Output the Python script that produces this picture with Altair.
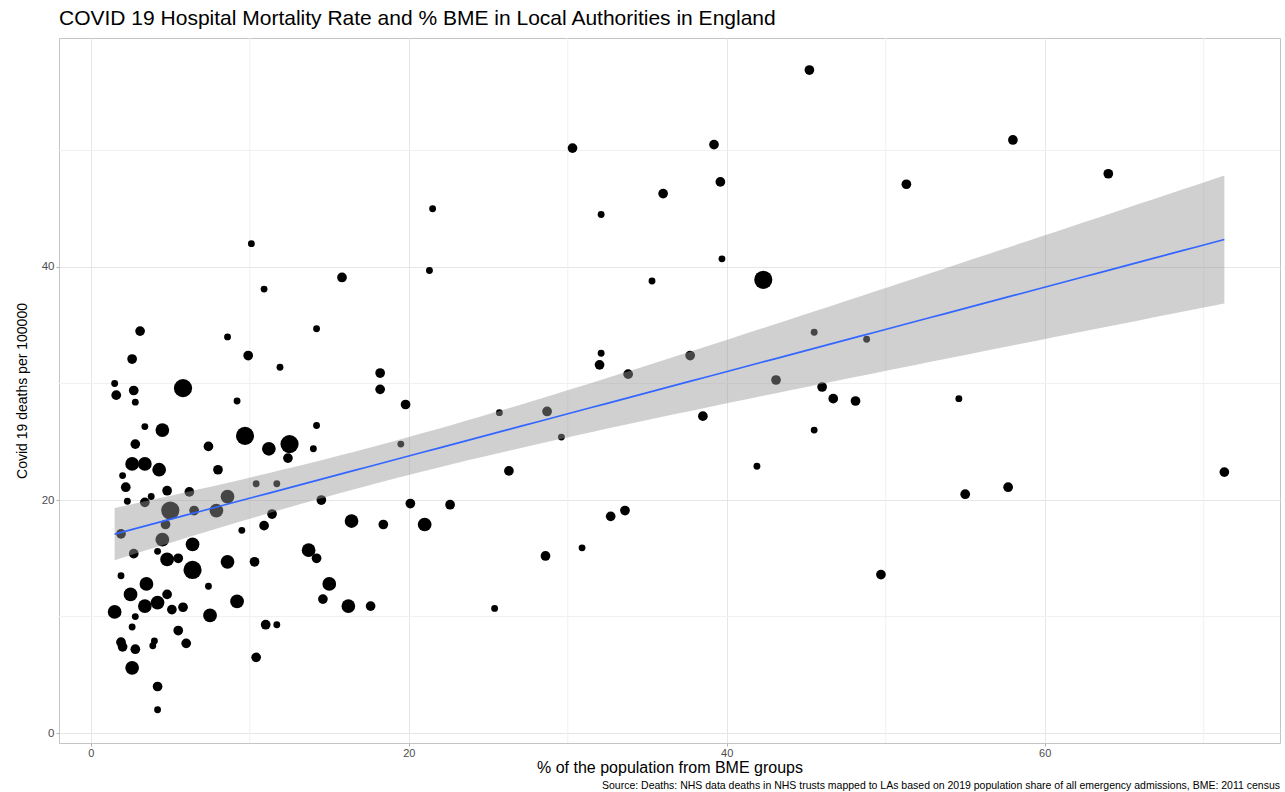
import numpy as np
import pandas as pd
import altair as alt

# % of population from BME groups (x)
bme = [45.2, 58.0, 30.3, 39.2, 64.0, 51.3, 39.6, 36.0, 21.5, 32.1,
       10.1, 10.9, 15.8, 21.3, 35.3, 39.7, 42.3, 3.1, 8.6, 14.2,
       9.9, 2.6, 11.9, 32.1, 32.0, 33.8, 37.7, 45.5, 48.8, 43.1,
       46.0, 46.7, 48.1, 54.6, 45.5, 41.9, 71.3, 55.0, 57.7, 49.7,
       38.5, 25.7, 28.7, 29.6, 26.3, 25.4, 28.6, 30.9, 32.7, 33.6,
       18.2, 18.2, 19.8, 19.5, 20.1, 22.6, 21.0, 18.4, 16.4, 14.2,
       14.0, 12.5, 11.2, 12.4, 10.4, 11.7, 14.5, 11.4, 10.9, 9.5,
       13.7, 14.2, 10.3, 15.0, 14.6, 16.2, 17.6, 11.0, 11.7, 10.4,
       1.5, 2.7, 1.6, 2.8, 5.8, 9.2, 3.4, 4.5, 9.7, 2.8,
       7.4, 2.6, 3.4, 4.3, 8.0, 2.0, 2.2, 4.8, 6.2, 2.3,
       3.4, 3.8, 8.6, 5.0, 6.5, 7.9, 4.7, 1.9, 4.5, 6.4,
       2.7, 4.2, 4.8, 5.5, 6.4, 8.6, 1.9, 3.5, 7.4, 2.5,
       4.8, 9.2, 4.2, 3.4, 5.1, 5.8, 1.5, 2.8, 7.5, 2.6,
       5.5, 1.9, 2.0, 2.8, 4.0, 3.9, 6.0, 2.6, 4.2, 4.2]

# Covid 19 deaths per 100000 (y)
deaths = [56.9, 50.9, 50.2, 50.5, 48.0, 47.1, 47.3, 46.3, 45.0, 44.5,
          42.0, 38.1, 39.1, 39.7, 38.8, 40.7, 38.9, 34.5, 34.0, 34.7,
          32.4, 32.1, 31.4, 32.6, 31.6, 30.8, 32.4, 34.4, 33.8, 30.3,
          29.7, 28.7, 28.5, 28.7, 26.0, 22.9, 22.4, 20.5, 21.1, 13.6,
          27.2, 27.5, 27.6, 25.4, 22.5, 10.7, 15.2, 15.9, 18.6, 19.1,
          30.9, 29.5, 28.2, 24.8, 19.7, 19.6, 17.9, 17.9, 18.2, 26.4,
          24.4, 24.8, 24.4, 23.6, 21.4, 21.4, 20.0, 18.8, 17.8, 17.4,
          15.7, 15.0, 14.7, 12.8, 11.5, 10.9, 10.9, 9.3, 9.3, 6.5,
          30.0, 29.4, 29.0, 28.4, 29.6, 28.5, 26.3, 26.0, 25.5, 24.8,
          24.6, 23.1, 23.1, 22.6, 22.6, 22.1, 21.1, 20.8, 20.7, 19.9,
          19.8, 20.3, 20.3, 19.1, 19.1, 19.1, 17.9, 17.1, 16.6, 16.2,
          15.4, 15.6, 14.9, 15.0, 14.0, 14.7, 13.5, 12.8, 12.6, 11.9,
          11.9, 11.3, 11.2, 10.9, 10.6, 10.8, 10.4, 10.0, 10.1, 9.1,
          8.8, 7.8, 7.4, 7.2, 7.9, 7.5, 7.7, 5.6, 4.0, 2.0]

# population (thousands)
pop = [200, 200, 200, 200, 200, 200, 200, 200, 100, 100,
       100, 100, 200, 100, 100, 100, 700, 200, 100, 100,
       200, 200, 100, 100, 200, 200, 200, 100, 100, 200,
       200, 200, 200, 100, 100, 100, 200, 200, 200, 200,
       200, 100, 200, 100, 200, 100, 200, 100, 200, 200,
       200, 200, 200, 100, 200, 200, 400, 200, 400, 100,
       100, 700, 400, 200, 100, 100, 200, 200, 200, 100,
       400, 200, 200, 400, 200, 400, 200, 200, 100, 200,
       100, 200, 200, 100, 700, 100, 100, 400, 700, 200,
       200, 400, 400, 400, 200, 100, 200, 200, 200, 100,
       200, 100, 400, 700, 200, 400, 200, 200, 400, 400,
       200, 100, 400, 200, 700, 400, 100, 400, 100, 400,
       200, 400, 400, 400, 200, 200, 400, 100, 400, 100,
       200, 200, 200, 200, 100, 100, 200, 400, 200, 100]

x_ticks = [0, 20, 40, 60]
y_ticks = [0, 20, 40]
x_minor = [10, 30, 50, 70]
y_minor = [10, 30, 50]

title = "COVID 19 Hospital Mortality Rate and % BME in Local Authorities in England"
caption = ("Source: Deaths: NHS data deaths in NHS trusts mapped to LAs based on 2019 "
           "population share of all emergency admissions, BME: 2011 census")

pts = pd.DataFrame({"bme": bme, "deaths": deaths, "pop": pop})

# linear model fit with 95% confidence band (as geom_smooth(method = "lm"))
X = np.array(bme)
Y = np.array(deaths)
n = len(X)
b1, b0 = np.polyfit(X, Y, 1)
res = Y - (b0 + b1 * X)
s = np.sqrt((res ** 2).sum() / (n - 2))
xbar = X.mean()
sxx = ((X - xbar) ** 2).sum()
gx = np.linspace(X.min(), X.max(), 80)
fit = b0 + b1 * gx
se = s * np.sqrt(1.0 / n + (gx - xbar) ** 2 / sxx)
tq = 1.977
band = pd.DataFrame({"bme": gx, "fit": fit, "lo": fit - tq * se, "hi": fit + tq * se})

W, H = 1221, 705
xs = alt.Scale(domain=[-2.0, 74.8], nice=False, zero=False)
ys = alt.Scale(domain=[-0.85, 59.65], nice=False, zero=False)

xaxis = alt.Axis(values=x_ticks, title="% of the population from BME groups",
                 grid=True, gridColor="#E6E6E6", domain=False,
                 tickColor="#B3B3B3", tickSize=3, labelPadding=1,
                 labelColor="#4D4D4D", labelFontSize=11,
                 titleFontSize=16, titleFontWeight="normal", titleColor="black",
                 titlePadding=1)
yaxis = alt.Axis(values=y_ticks, title="Covid 19 deaths per 100000",
                 grid=True, gridColor="#E6E6E6", domain=False,
                 tickColor="#B3B3B3", tickSize=3, labelPadding=2,
                 labelColor="#4D4D4D", labelFontSize=11.5,
                 titleFontSize=14, titleFontWeight="normal", titleColor="black",
                 titlePadding=12)

vminor = alt.Chart(pd.DataFrame({"v": x_minor})).mark_rule(
    color="#F0F0F0", strokeWidth=1).encode(x=alt.X("v:Q", scale=xs, axis=xaxis))
hminor = alt.Chart(pd.DataFrame({"h": y_minor})).mark_rule(
    color="#F0F0F0", strokeWidth=1).encode(y=alt.Y("h:Q", scale=ys, axis=yaxis))

points = alt.Chart(pts).mark_circle(color="black", opacity=1).encode(
    x=alt.X("bme:Q", scale=xs, axis=xaxis),
    y=alt.Y("deaths:Q", scale=ys, axis=yaxis),
    size=alt.Size("pop:Q", scale=alt.Scale(domain=[0, 700], range=[0, 330]), legend=None),
)

ribbon = alt.Chart(band).mark_area(color="#999999", opacity=0.46).encode(
    x=alt.X("bme:Q", scale=xs), y=alt.Y("lo:Q", scale=ys), y2="hi:Q")

line = alt.Chart(band).mark_line(color="#3366FF", strokeWidth=1.7).encode(
    x=alt.X("bme:Q", scale=xs), y=alt.Y("fit:Q", scale=ys))

cap = alt.Chart(pd.DataFrame({"t": [caption]})).mark_text(
    align="right", baseline="middle", fontSize=10.5, font="Liberation Sans", color="black"
).encode(x=alt.value(W), y=alt.value(H + 43), text="t:N")

chart = alt.layer(vminor, hminor, points, ribbon, line, cap).properties(
    width=W, height=H,
    title=alt.TitleParams(title, anchor="start", frame="group", fontSize=21,
                          fontWeight="normal", color="black", font="Liberation Sans",
                          offset=9),
    autosize=alt.AutoSizeParams(type="none"),
    padding={"left": 59, "top": 38, "right": 5, "bottom": 49},
).configure(font="Liberation Sans").configure_view(stroke="#C4C4C4", strokeWidth=1)

chart.save("out.html", embed_options={"renderer": "svg", "actions": False})
